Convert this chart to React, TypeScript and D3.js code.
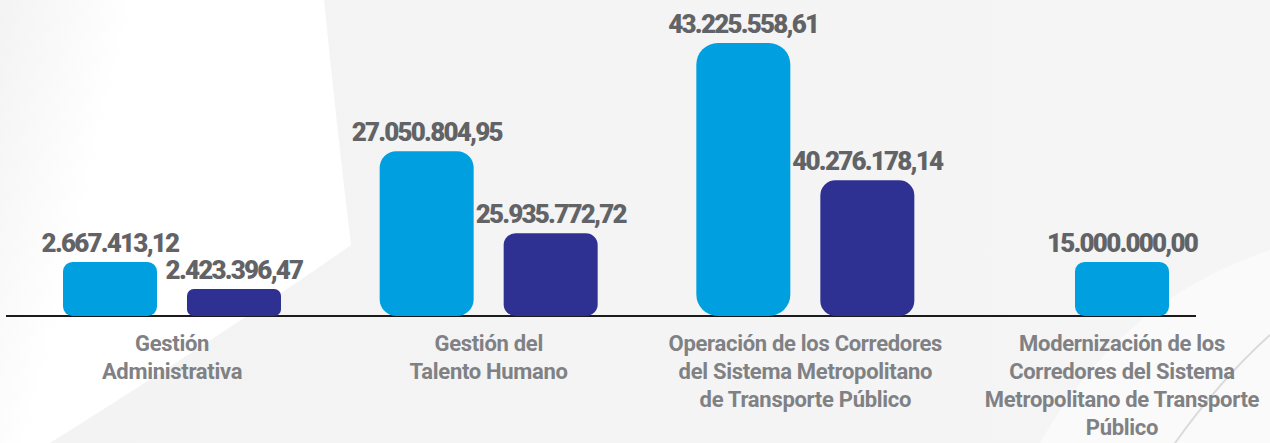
import React, { useEffect, useRef } from 'react';
import * as d3 from 'd3';

// categories, with the line breaks used under the axis
const categories = [
  'Gestión Administrativa',
  'Gestión del Talento Humano',
  'Operación de los Corredores del Sistema Metropolitano de Transporte Público',
  'Modernización de los Corredores del Sistema Metropolitano de Transporte Público',
];
const categoryLines = [
  ['Gestión', 'Administrativa'],
  ['Gestión del', 'Talento Humano'],
  ['Operación de los Corredores', 'del Sistema Metropolitano', 'de Transporte Público'],
  ['Modernización de los', 'Corredores del Sistema', 'Metropolitano de Transporte', 'Público'],
];

// amounts shown on top of the bars
const seriesA = [2667413.12, 27050804.95, 43225558.61, 15000000.0];
const seriesB = [2423396.47, 25935772.72, 40276178.14, null];

// the bar heights in the picture do not follow the amounts,
// these are the levels as drawn (millions, read against the tallest bar)
const levelA = [8.55, 26.1, 43.23, 8.55];
const levelB = [4.27, 13.1, 21.5, null];

const W = 1270;
const H = 443;
const colorA = '#009fdf';
const colorB = '#2e3192';

const es = d3.formatLocale({ decimal: ',', thousands: '.', grouping: [3], currency: ['', ''] });
const fmt = es.format(',.2f');

export default function App() {
  const ref = useRef<SVGSVGElement>(null);

  useEffect(() => {
    const svg = d3.select(ref.current);
    svg.selectAll('*').remove();

    // background
    const defs = svg.append('defs');
    const g1 = defs.append('linearGradient').attr('id', 'bg').attr('x1', 0).attr('y1', 0).attr('x2', 1).attr('y2', 0);
    g1.append('stop').attr('offset', 0).attr('stop-color', '#f3f3f3');
    g1.append('stop').attr('offset', 1).attr('stop-color', '#f5f5f5');
    const g2 = defs.append('linearGradient').attr('id', 'lt').attr('x1', 0).attr('y1', 0).attr('x2', 1).attr('y2', 0.3);
    g2.append('stop').attr('offset', 0).attr('stop-color', '#f3f3f3');
    g2.append('stop').attr('offset', 0.35).attr('stop-color', '#ffffff');
    g2.append('stop').attr('offset', 1).attr('stop-color', '#ffffff');

    svg.append('rect').attr('width', W).attr('height', H).attr('fill', 'url(#bg)');
    svg.append('path')
      .attr('d', 'M0,0 L324,0 Q336,120 351,245 Q230,330 50,443 L0,443 Z')
      .attr('fill', 'url(#lt)');
    svg.append('path')
      .attr('d', 'M1040,443 Q1120,300 1270,250 L1270,443 Z')
      .attr('fill', '#fafafa');
    svg.append('path')
      .attr('d', 'M1175,443 Q1220,380 1270,335')
      .attr('fill', 'none').attr('stroke', '#cccccc').attr('stroke-width', 2).attr('opacity', 0.7);

    const baseY = 316;
    const x = d3.scalePoint<string>().domain(categories).range([172, 1122]);
    const y = d3.scaleLinear().domain([0, d3.max(levelA) as number]).range([baseY, 43]);

    // axis line
    svg.append('line')
      .attr('x1', 6).attr('x2', 1196)
      .attr('y1', baseY).attr('y2', baseY)
      .attr('stroke', '#1b1b1b').attr('stroke-width', 2);

    const step = 124;
    const gap = 30;

    categories.forEach((cat, i) => {
      const bars = [
        { key: 'a', value: seriesA[i], level: levelA[i], color: colorA },
        { key: 'b', value: seriesB[i], level: levelB[i], color: colorB },
      ].filter((d) => d.value != null && d.level != null);

      const half = (bars.length * step - gap) / 2;
      const inner = d3.scaleBand<string>()
        .domain(bars.map((d) => d.key))
        .range([-half, half])
        .paddingInner(bars.length > 1 ? gap / step : 0);

      const g = svg.append('g').attr('transform', `translate(${x(cat)},0)`);

      bars.forEach((d) => {
        const top = y(d.level as number);
        const h = baseY - top;
        const bw = inner.bandwidth();
        const r = Math.min(1.3 * Math.sqrt(h), h / 2, bw / 2);
        g.append('rect')
          .attr('x', inner(d.key) as number)
          .attr('y', top)
          .attr('width', bw)
          .attr('height', h)
          .attr('rx', r)
          .attr('fill', d.color);

        g.append('text')
          .attr('x', (inner(d.key) as number) + bw / 2)
          .attr('y', top - 10)
          .attr('text-anchor', 'middle')
          .attr('font-family', 'Roboto, sans-serif')
          .attr('font-weight', 900)
          .attr('font-size', 26)
          .attr('letter-spacing', -1.8)
          .attr('fill', '#626366')
          .text(fmt(d.value as number));
      });

      const label = g.append('text')
        .attr('text-anchor', 'middle')
        .attr('font-family', 'Roboto, sans-serif')
        .attr('font-weight', 700)
        .attr('font-size', 22)
        .attr('letter-spacing', -0.3)
        .attr('fill', '#808184');
      categoryLines[i].forEach((line, j) => {
        label.append('tspan').attr('x', 0).attr('y', 351 + j * 28).text(line);
      });
    });
  }, []);

  return (
    <svg
      ref={ref}
      width={W}
      height={H}
      style={{ position: 'absolute', left: 0, top: 0, display: 'block' }}
    />
  );
}
